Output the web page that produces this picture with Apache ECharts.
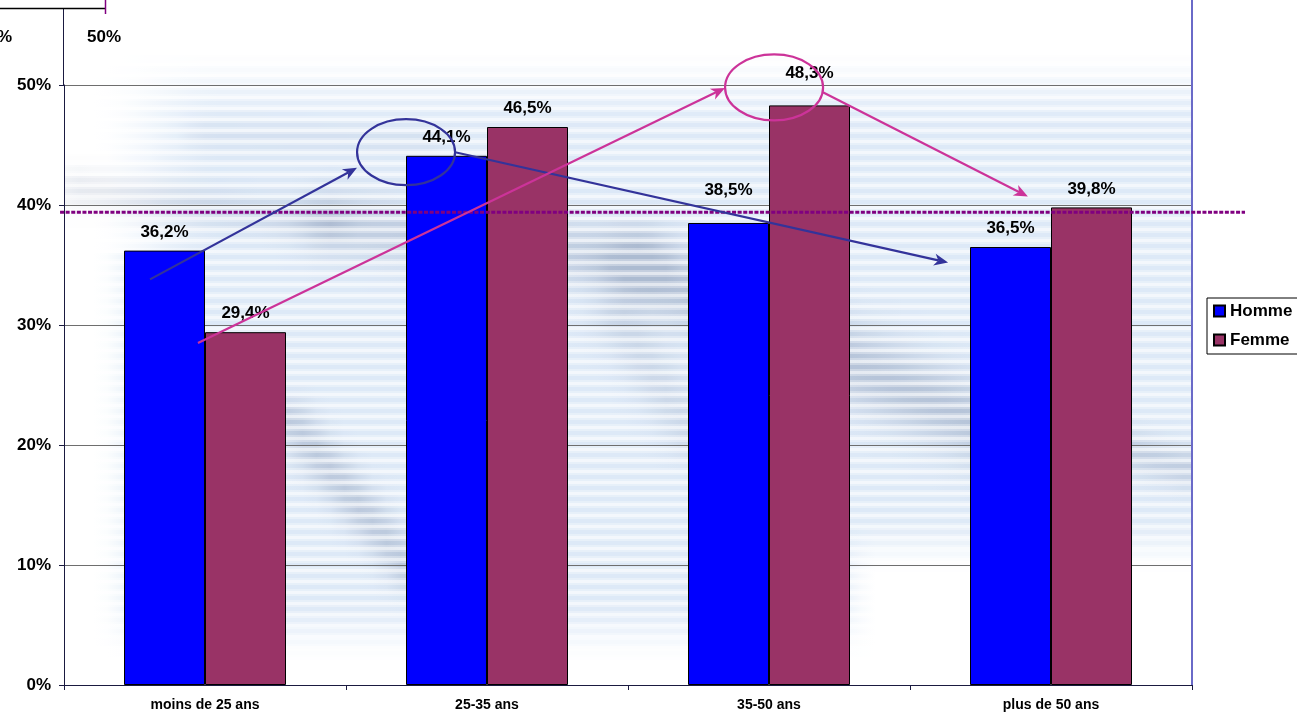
<!DOCTYPE html>
<html><head><meta charset="utf-8">
<script src="https://cdn.jsdelivr.net/npm/echarts@6/dist/echarts.min.js"></script>
<style>html,body{margin:0;padding:0;background:#fff}#c{width:1297px;height:714px}</style>
</head><body><div id="c"></div>
<script>
// ---- data ----
const categories = ['moins de 25 ans', '25-35 ans', '35-50 ans', 'plus de 50 ans'];
const homme = [36.2, 44.1, 38.5, 36.5];
const femme = [29.4, 46.5, 48.3, 39.8];
const yTicks = [0, 10, 20, 30, 40, 50];
const averageValue = 39.4;
// annotations in data units: [categoryIndex, value]
const blueArrow1 = [[-0.195, 33.8], [0.539, 43.1]];
const blueEllipse = [0.713, 44.4];
const blueArrow2 = [[0.887, 44.4], [2.635, 35.2]];
const pinkArrow1 = [[-0.025, 28.5], [1.844, 49.75]];
const pinkEllipse = [2.018, 49.8];
const pinkArrow2 = [[2.191, 49.4], [2.918, 40.7]];
const averageSpan = [-0.514, 3.688];

// ---- style ----
const FONT = '"Liberation Sans", Arial, sans-serif';
const labelDistance = [10, 10, 24, 10];
const fmt = v => v.toFixed(1).replace('.', ',') + '%';

const chart = echarts.init(document.getElementById('c'), null, {renderer: 'canvas'});
const mk = arr => arr.map((v, i) => ({value: v, label: {distance: labelDistance[i]}}));

const option = {
  animation: false,
  backgroundColor: '#ffffff',
  grid: {left: 64, right: 105, top: 85, bottom: 29},
  legend: {
    orient: 'vertical', left: 1207, top: 298,
    borderColor: '#000', borderWidth: 1, padding: [3, 30, 4, 6],
    itemWidth: 11, itemHeight: 11, itemGap: 9, icon: 'rect',
    textStyle: {fontFamily: FONT, fontSize: 17, fontWeight: 'bold', color: '#000', lineHeight: 20},
    data: ['Homme', 'Femme']
  },
  xAxis: {
    type: 'category', data: categories,
    axisLine: {lineStyle: {color: '#1a1a40', width: 1}},
    axisTick: {show: true, length: 5, lineStyle: {color: '#1a1a40'}},
    axisLabel: {fontFamily: FONT, fontSize: 14, fontWeight: 'bold', color: '#000', margin: 13}
  },
  yAxis: {
    type: 'value', min: yTicks[0], max: yTicks[yTicks.length - 1], interval: 10,
    axisLine: {show: true, lineStyle: {color: '#1a1a40', width: 1}},
    axisTick: {show: true, length: 5, lineStyle: {color: '#1a1a40'}},
    axisLabel: {fontFamily: FONT, fontSize: 17, fontWeight: 'bold', color: '#000', margin: 13,
      formatter: v => v + '%'},
    splitLine: {lineStyle: {color: '#6e6e6e', width: 1}}
  },
  series: [
    {name: 'Homme', type: 'bar', data: mk(homme), barWidth: 81, barGap: '0%',
      itemStyle: {color: '#0000ff', borderColor: '#000', borderWidth: 1},
      label: {show: true, position: 'top', fontFamily: FONT, fontSize: 17, fontWeight: 'bold', color: '#000',
        formatter: p => fmt(p.value)}},
    {name: 'Femme', type: 'bar', data: mk(femme), barWidth: 81, barGap: '0%',
      itemStyle: {color: '#993366', borderColor: '#000', borderWidth: 1},
      label: {show: true, position: 'top', fontFamily: FONT, fontSize: 17, fontWeight: 'bold', color: '#000',
        formatter: p => fmt(p.value)}}
  ]
};
chart.setOption(option);

// pixel helpers through the axes
const x0 = chart.convertToPixel({xAxisIndex: 0}, 0);
const x1 = chart.convertToPixel({xAxisIndex: 0}, 1);
const px = c => x0 + c * (x1 - x0);
const py = v => chart.convertToPixel({yAxisIndex: 0}, v);
const P = d => [px(d[0]), py(d[1])];

const gridL = px(-0.5), gridR = px(3.5), gridB = py(0);
const g = [];

// ---- faded striped background picture (decoration) ----
const ss = (a, b, v) => { const t = Math.min(1, Math.max(0, (v - a) / (b - a))); return t * t * (3 - 2 * t); };
const darkSegs = [
  [75, 188, 330, 222, 14, 0.22],
  [330, 222, 640, 262, 22, 0.35],
  [640, 268, 985, 425, 26, 0.48],
  [620, 320, 690, 430, 18, 0.22],
  [290, 420, 410, 570, 14, 0.42],
  [1110, 445, 1195, 470, 14, 0.35],
  [200, 135, 430, 140, 10, 0.1]
];
function segDist(x, y, s) {
  const [ax, ay, bx, by] = s; const dx = bx - ax, dy = by - ay;
  let t = ((x - ax) * dx + (y - ay) * dy) / (dx * dx + dy * dy); t = Math.max(0, Math.min(1, t));
  return Math.hypot(x - ax - t * dx, y - ay - t * dy);
}
function baseI(x, y) {
  let b = 0.75 * ss(45, 130, y) * (1 - ss(600, 665, y));
  b *= (y < 250 ? ss(90, 220, x) : ss(95, 150, x));
  b *= 1 - ss(820, 880, x) * ss(515, 575, y);
  return Math.max(0, Math.min(1, b));
}
function darkI(x, y) {
  let d = 0;
  for (const s of darkSegs) { const r = segDist(x, y, s); d += s[5] * Math.exp(-(r * r) / (2 * s[4] * s[4])); }
  return Math.min(0.6, d);
}
const mix = (a, b, t) => a.map((v, i) => Math.round(v + (b[i] - v) * t));
const W = [255, 255, 255], LB = [210, 226, 244], DK = [140, 156, 184];
const rgb = c => 'rgb(' + c.join(',') + ')';
const gw = gridR - gridL;
for (let y = 0; y < gridB; y += 11) {
  const stopsA = [], stopsB = [], stopsC = [];
  for (let x = gridL; x <= gridR + 1; x += 14) {
    const off = Math.min(1, (x - gridL) / gw);
    const b = baseI(x, y + 4), d = darkI(x, y + 4);
    const c = mix(mix(W, LB, b), DK, d);
    stopsA.push({offset: off, color: rgb(c)});
    stopsB.push({offset: off, color: rgb(mix(W, c, 0.7))});
    stopsC.push({offset: off, color: rgb(mix(W, c, 0.35))});
  }
  const LG = s => new echarts.graphic.LinearGradient(0, 0, 1, 0, s);
  g.push({type: 'rect', z: -20, silent: true, shape: {x: gridL + 1, y: y, width: gw - 2, height: 2}, style: {fill: LG(stopsB)}});
  g.push({type: 'rect', z: -20, silent: true, shape: {x: gridL + 1, y: y + 2, width: gw - 2, height: 4}, style: {fill: LG(stopsA)}});
  g.push({type: 'rect', z: -20, silent: true, shape: {x: gridL + 1, y: y + 6, width: gw - 2, height: 2}, style: {fill: LG(stopsB)}});
  g.push({type: 'rect', z: -20, silent: true, shape: {x: gridL + 1, y: y + 8, width: gw - 2, height: 3}, style: {fill: LG(stopsC)}});
}

// right frame line & extended left axis
g.push({type: 'line', z: 50, silent: true, shape: {x1: gridR, y1: 0, x2: gridR, y2: gridB},
  style: {stroke: '#6a6ac8', lineWidth: 2}});
g.push({type: 'line', z: 50, silent: true, shape: {x1: gridL - 0.5, y1: 8, x2: gridL - 0.5, y2: py(50)},
  style: {stroke: '#1a1a40', lineWidth: 1}});
// top-left remains of another object
g.push({type: 'line', z: 50, silent: true, shape: {x1: 0, y1: 8.5, x2: 105, y2: 8.5}, style: {stroke: '#000', lineWidth: 1.5}});
g.push({type: 'line', z: 50, silent: true, shape: {x1: 105.5, y1: 0, x2: 105.5, y2: 14}, style: {stroke: '#800080', lineWidth: 1.5}});
g.push({type: 'text', z: 50, silent: true, style: {x: 12, y: 37, text: '50%', align: 'right', verticalAlign: 'middle',
  font: 'bold 17px ' + FONT, fill: '#000'}});
g.push({type: 'text', z: 50, silent: true, style: {x: 87, y: 37, text: '50%', align: 'left', verticalAlign: 'middle',
  font: 'bold 17px ' + FONT, fill: '#000'}});

// average dotted line
g.push({type: 'line', z: 60, silent: true,
  shape: {x1: px(averageSpan[0]), y1: py(averageValue), x2: px(averageSpan[1]), y2: py(averageValue)},
  style: {stroke: '#800080', lineWidth: 3, lineDash: [4, 1.6]}});

function arrow(a, b, color) {
  const [ax, ay] = P(a), [bx, by] = P(b);
  const dx = bx - ax, dy = by - ay, L = Math.hypot(dx, dy);
  const ux = dx / L, uy = dy / L, nx = -uy, ny = ux;
  const len = 14, w = 6, notch = 4;
  const back = [bx - (len - notch) * ux, by - (len - notch) * uy];
  g.push({type: 'line', z: 80, silent: true, shape: {x1: ax, y1: ay, x2: back[0], y2: back[1]},
    style: {stroke: color, lineWidth: 2.2}});
  g.push({type: 'polygon', z: 81, silent: true, shape: {points: [
    [bx, by], [bx - len * ux + w * nx, by - len * uy + w * ny], back, [bx - len * ux - w * nx, by - len * uy - w * ny]]},
    style: {fill: color}});
}
function ell(c, color) {
  const [cx, cy] = P(c);
  g.push({type: 'ellipse', z: 80, silent: true, shape: {cx: cx, cy: cy, rx: 49, ry: 33},
    style: {stroke: color, lineWidth: 2.2, fill: null}});
}
const BLUE = '#33339a', PINK = '#cc3399';
arrow(blueArrow1[0], blueArrow1[1], BLUE);
ell(blueEllipse, BLUE);
arrow(blueArrow2[0], blueArrow2[1], BLUE);
arrow(pinkArrow1[0], pinkArrow1[1], PINK);
ell(pinkEllipse, PINK);
arrow(pinkArrow2[0], pinkArrow2[1], PINK);

chart.setOption({graphic: g});
</script></body></html>
